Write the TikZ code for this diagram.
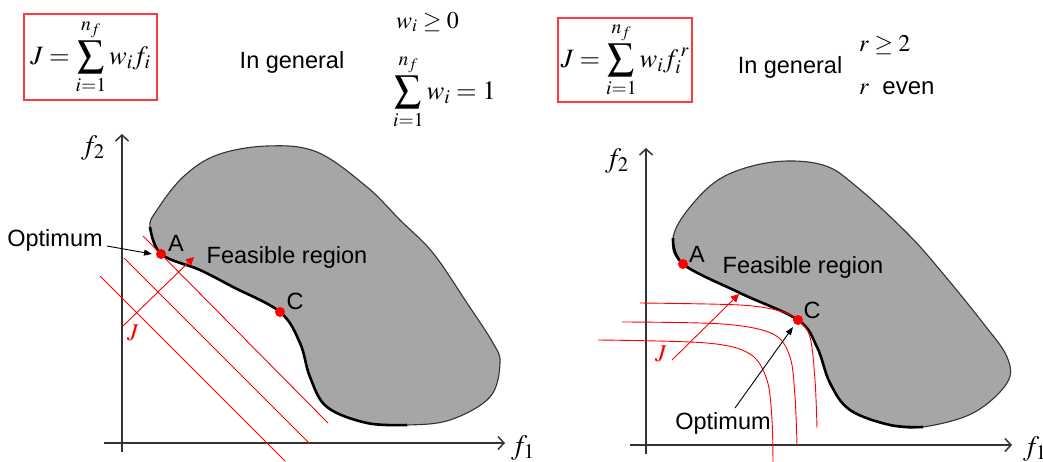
\documentclass[tikz,border=0pt]{standalone}
\usepackage{mathptmx}
\usepackage[no-math]{fontspec}
\setmainfont{Liberation Sans}
\usetikzlibrary{arrows.meta}
\definecolor{blobgray}{HTML}{A6A6A6}
\definecolor{axisgray}{HTML}{333333}
\definecolor{boxred}{HTML}{FF3B3B}
\tikzset{
  txt/.style={inner sep=0pt, font=\fontsize{23.5}{28}\selectfont},
  mth/.style={inner sep=0pt, font=\fontsize{24}{28}\selectfont},
  bigmth/.style={inner sep=0pt, font=\fontsize{26.5}{30}\selectfont},
  axlbl/.style={inner sep=0pt, font=\fontsize{28}{32}\selectfont},
  fbox/.style={draw=boxred, line width=1.3pt, inner sep=0pt, minimum width=133pt, minimum height=86pt, font=\fontsize{26.5}{30}\selectfont},
  axis/.style={draw=axisgray, line width=1.5pt, -{Straight Barb[length=6pt,width=13pt,line width=1.5pt]}},
  outline/.style={draw=black!80, line width=1.1pt},
  frontier/.style={draw=black, line width=2.6pt},
  redline/.style={draw=red, line width=0.9pt},
  jarrow/.style={draw=red, line width=0.9pt, -{Triangle[length=8pt,width=8pt]}},
  optarrow/.style={draw=black, line width=0.9pt, -{Triangle[length=8pt,width=6pt]}},
  dot/.style={circle, fill=red, inner sep=0pt, minimum size=10pt},
  jlbl/.style={inner sep=0pt, text=red, font=\fontsize{24}{28}\selectfont},
}
\begin{document}
\begin{tikzpicture}[x=1pt,y=-1pt]
\clip (0,0) rectangle (1043,461);
\fill[white] (0,0) rectangle (1043,461);

% ---------- top formulas ----------
\node[fbox] (JL) at (90.5,57) {$\displaystyle J=\sum_{i=1}^{n_f} w_i f_i$};
\node[txt] (genL) at (292,62) {In general};
\node[mth, anchor=west] (wpos) at (396,22) {$w_i \ge 0$};
\node[bigmth, anchor=west] (wsum) at (393,92) {$\displaystyle \sum_{i=1}^{n_f} w_i = 1$};

\node[fbox, minimum width=134pt, minimum height=84pt] (JR) at (625,60) {$\displaystyle J=\sum_{i=1}^{n_f} w_i f_i^{\,r}$};
\node[txt] (genR) at (790,67) {In general};
\node[mth, anchor=west] (rge) at (859,45) {$r \ge 2$};
\node[mth, anchor=west] (reven) at (859,88) {$r$ ~even};

% ---------- left panel ----------
\fill[blobgray] plot[smooth cycle, tension=0.6] coordinates {
 (150,227) (161,254) (200,270) (233,287) (280,312) (300,343) (310,377) (327,407) (367,423) (407,425)
 (450,420) (490,397) (500,363) (493,343) (467,303) (433,253) (400,220) (367,187) (317,152) (267,146) (217,155) (183,177) (157,210)};
\draw[outline] plot[smooth cycle, tension=0.6] coordinates {
 (150,227) (161,254) (200,270) (233,287) (280,312) (300,343) (310,377) (327,407) (367,423) (407,425)
 (450,420) (490,397) (500,363) (493,343) (467,303) (433,253) (400,220) (367,187) (317,152) (267,146) (217,155) (183,177) (157,210)};
\draw[frontier] plot[smooth, tension=0.6] coordinates {
 (150,227) (161,254) (200,270) (233,287) (280,312) (300,343) (310,377) (327,407) (367,423) (407,425)};

\coordinate (yLb) at (122,452);
\coordinate (yLt) at (122,134);
\coordinate (xLl) at (104,443);
\coordinate (xLr) at (505,443);
\draw[axis] (yLb) -- (yLt);
\draw[axis] (xLl) -- (xLr);
\node[axlbl] (f2L) at (93,148) {$f_2$};
\node[axlbl] (f1L) at (523,448) {$f_1$};

\draw[redline] (143,236) -- (328,423);
\draw[redline] (124,258) -- (310,444);
\draw[redline] (100,276) -- (285,461);

\coordinate (JLs) at (122,327);
\coordinate (JLe) at (194,257);
\draw[jarrow] (JLs) -- (JLe);
\node[jlbl] (JlabL) at (133,333) {$J$};

\node[dot] (AL) at (161,254) {};
\node[dot] (CL) at (280,312) {};
\node[txt] (AlabL) at (176,243) {A};
\node[txt] (ClabL) at (295,301) {C};
\node[txt] (feasL) at (287,257) {Feasible region};
\node[txt] (optL) at (55,240) {Optimum};
\coordinate (optLs) at (107,246);
\coordinate (optLe) at (152,254);
\draw[optarrow] (optLs) -- (optLe);

% ---------- right panel ----------
\fill[blobgray] plot[smooth cycle, tension=0.6] coordinates {
 (673,238) (683,264) (740,293) (798,320) (817,347) (830,383) (850,410) (890,425) (923,427)
 (973,413) (1007,383) (1007,357) (983,323) (940,270) (907,233) (857,187) (823,165) (773,162) (723,177) (690,207)};
\draw[outline] plot[smooth cycle, tension=0.6] coordinates {
 (673,238) (683,264) (740,293) (798,320) (817,347) (830,383) (850,410) (890,425) (923,427)
 (973,413) (1007,383) (1007,357) (983,323) (940,270) (907,233) (857,187) (823,165) (773,162) (723,177) (690,207)};
\draw[frontier] plot[smooth, tension=0.6] coordinates {
 (673,238) (683,264) (740,293) (798,320) (817,347) (830,383) (850,410) (890,425) (923,427)};

\coordinate (yRb) at (646,454);
\coordinate (yRt) at (646,148);
\coordinate (xRl) at (630,445);
\coordinate (xRr) at (1012,445);
\draw[axis] (yRb) -- (yRt);
\draw[axis] (xRl) -- (xRr);
\node[axlbl] (f2R) at (617,161) {$f_2$};
\node[axlbl] (f1R) at (1035,449) {$f_1$};

\draw[redline] plot[smooth, tension=0.55] coordinates {(640,303) (740,305) (780,311) (798,320) (810,337) (815,380) (817,428)};
\draw[redline] plot[smooth, tension=0.55] coordinates {(622,322) (723,324) (773,334) (790,357) (795,397) (797,445)};
\draw[redline] plot[smooth, tension=0.55] coordinates {(598,340) (707,343) (750,354) (767,380) (772,420) (773,465)};

\coordinate (JRs) at (672,360);
\coordinate (JRe) at (739,294);
\draw[jarrow] (JRs) -- (JRe);
\node[jlbl] (JlabR) at (661,354) {$J$};

\node[dot] (AR) at (683,264) {};
\node[dot] (CR) at (798,320) {};
\node[txt] (AlabR) at (697,254) {A};
\node[txt] (ClabR) at (812,310) {C};
\node[txt] (feasR) at (803,267) {Feasible region};
\node[txt] (optR) at (723,423) {Optimum};
\coordinate (optRs) at (735,408);
\coordinate (optRe) at (793,327);
\draw[optarrow] (optRs) -- (optRe);
\end{tikzpicture}
\end{document}
